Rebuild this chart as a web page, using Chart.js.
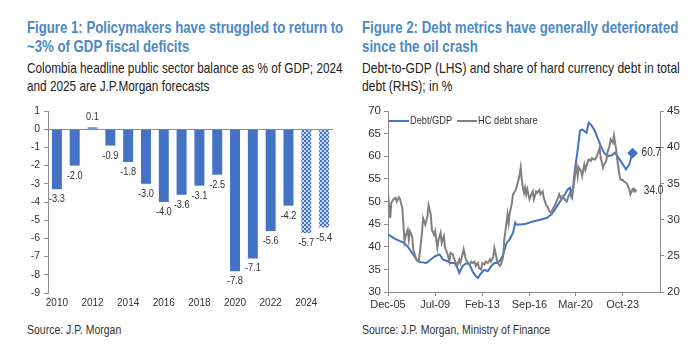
<!DOCTYPE html>
<html>
<head>
<meta charset="utf-8">
<script src="https://cdn.jsdelivr.net/npm/chart.js@4.4.1/dist/chart.umd.min.js"></script>
<style>
  body { margin: 0; width: 700px; height: 361px; background: #fff; position: relative; overflow: hidden;
         font-family: "Liberation Sans", Arial, sans-serif; }
  .txt { position: absolute; white-space: nowrap; transform-origin: 0 0; }
  .title { color: #4d89c4; font-weight: bold; font-size: 17px; line-height: 18.5px; }
  .sub { color: #222; font-size: 14.5px; line-height: 18px; }
  .src { color: #333; font-size: 13.5px; }
  .box { position: absolute; top: 100px; width: 350px; height: 215px; }
</style>
</head>
<body>
<div class="txt title" data-w="316" style="left:27px; top:19px;">Figure 1: Policymakers have struggled to return to<br>~3% of GDP fiscal deficits</div>
<div class="txt sub" data-w="316" style="left:27px; top:59px;">Colombia headline public sector balance as % of GDP; 2024<br>and 2025 are J.P.Morgan forecasts</div>
<div class="txt title" data-w="316" style="left:362px; top:19px;">Figure 2: Debt metrics have generally deteriorated<br>since the oil crash</div>
<div class="txt sub" data-w="318" style="left:362px; top:59px;">Debt-to-GDP (LHS) and share of hard currency debt in total<br>debt (RHS); in %</div>
<div class="box" style="left:0px;"><canvas id="barChart" width="350" height="215"></canvas></div>
<div class="box" style="left:350px;"><canvas id="lineChart" width="350" height="215"></canvas></div>
<div class="txt src" data-w="94" style="left:27px; top:322px;">Source: J.P. Morgan</div>
<div class="txt src" data-w="188" style="left:362px; top:322px;">Source: J.P. Morgan, Ministry of Finance</div>
<script>
// ---- Figure 1 data: public sector balance, % of GDP
const years = ["2010","2011","2012","2013","2014","2015","2016","2017","2018","2019","2020","2021","2022","2023","2024","2025"];
const balance = [-3.3, -2.0, 0.1, -0.9, -1.8, -3.0, -4.0, -3.6, -3.1, -2.5, -7.8, -7.1, -5.6, -4.2, -5.7, -5.4];
const forecastYears = ["2024", "2025"];

// ---- Figure 2 data
const debtDates = ["2005-12","2006-07","2007-03","2007-07","2007-12","2008-03","2008-06","2008-11","2009-03","2009-07",
  "2009-11","2010-02","2010-06","2010-09","2011-01","2011-04","2011-05","2011-08","2011-11","2012-02","2012-05","2012-08",
  "2012-10","2013-01","2013-04","2013-07","2013-10","2014-01","2014-04","2014-07","2014-09","2014-12","2015-03","2015-06",
  "2015-08","2015-09","2016-01","2016-06","2016-12","2017-06","2018-01","2018-03","2018-05","2018-08","2018-11","2019-02",
  "2019-05","2019-08","2019-10","2019-12","2020-02","2020-05","2020-07","2020-09","2021-01","2021-03","2021-05","2021-08",
  "2021-11","2022-02","2022-05","2022-08","2022-12","2023-03","2023-06","2023-09","2023-12","2024-01","2024-04","2024-06","2024-07"];
const debtToGdp = [42.7,41.7,40.8,39.7,37.9,36.8,36.6,36.4,37.2,37.9,
  38.3,37.2,36.8,36.4,36.4,34.9,34.2,35.7,36.3,36.3,34.6,33.5,
  33.1,34.2,34.9,34.6,35.7,36.4,36.4,37.2,38.3,40.8,41.6,43.1,
  45.3,44.9,44.9,45.1,45.6,45.9,46.4,46.8,47.1,48.2,49.3,50.4,
  51.5,52.7,53.0,51.2,56.3,61.5,65.6,65.9,65.2,67.4,67.0,65.9,
  64.1,62.3,60.8,60.0,60.2,60.8,59.7,58.6,57.5,57.1,58.2,60.0,60.7];

const hcDates = ["2005-12","2006-01","2006-02","2006-03","2006-05","2006-07","2006-08","2006-10","2006-11","2007-01",
  "2007-02","2007-03","2007-04","2007-06","2007-07","2007-08","2007-10","2007-11","2008-01","2008-02","2008-04","2008-05",
  "2008-07","2008-08","2008-10","2008-12","2009-01","2009-03","2009-04","2009-06","2009-07","2009-09","2009-10","2009-12",
  "2010-01","2010-03","2010-04","2010-06","2010-08","2010-09","2010-11","2010-12","2011-02","2011-03","2011-05","2011-06",
  "2011-08","2011-09","2011-11","2012-01","2012-02","2012-04","2012-05","2012-07","2012-08","2012-10","2012-11","2013-01",
  "2013-02","2013-04","2013-05","2013-07","2013-09","2013-10","2013-12","2014-01","2014-03","2014-04","2014-06","2014-07",
  "2014-09","2014-10","2014-12","2015-01","2015-02","2015-03","2015-05","2015-06","2015-08","2015-09","2015-10","2015-12",
  "2016-01","2016-02","2016-03","2016-04","2016-05","2016-06","2016-07","2016-09","2016-10","2016-12","2017-01","2017-03",
  "2017-04","2017-06","2017-07","2017-09","2017-10","2017-12","2018-02","2018-03","2018-05","2018-06","2018-08","2018-09",
  "2018-11","2018-12","2019-02","2019-03","2019-05","2019-07","2019-08","2019-10","2019-11","2020-01","2020-02","2020-03",
  "2020-04","2020-05","2020-06","2020-08","2020-09","2020-11","2020-12","2021-02","2021-03","2021-05","2021-06","2021-08",
  "2021-09","2021-11","2022-01","2022-02","2022-04","2022-05","2022-07","2022-08","2022-10","2022-11","2023-01","2023-02",
  "2023-04","2023-05","2023-07","2023-08","2023-10","2023-11","2024-01","2024-02","2024-04","2024-05","2024-07","2024-08","2024-09"];
const hcShare = [33.5,31.9,30.2,32.3,32.8,33.0,32.5,33.1,32.8,31.6,
  29.5,27.0,27.7,28.6,27.2,28.4,27.7,25.9,24.9,24.5,24.2,25.4,
  28.2,30.2,29.3,30.5,32.0,30.7,28.6,27.9,28.4,26.1,27.2,28.2,
  26.8,27.7,26.1,25.4,24.2,25.4,25.2,24.7,24.0,23.6,24.5,24.0,
  25.2,25.9,24.5,24.0,23.8,24.2,24.0,24.2,23.6,24.0,23.3,23.1,
  24.0,23.8,24.2,24.0,24.5,24.2,24.9,26.1,24.7,24.0,23.6,23.8,
  24.9,27.2,29.5,30.7,29.5,30.9,32.3,33.5,33.9,34.4,34.9,36.2,
  37.2,35.5,34.4,33.7,34.4,33.5,34.2,32.8,33.2,33.9,32.8,33.9,
  33.7,34.1,33.5,33.9,33.0,32.1,31.6,31.2,30.9,31.4,31.9,32.3,
  33.0,33.5,32.8,33.2,32.8,32.5,33.0,33.7,33.2,34.4,35.5,36.7,
  37.4,36.0,37.2,36.7,36.0,37.6,36.9,37.9,38.3,38.1,38.5,38.3,
  38.3,39.0,39.9,38.5,37.2,37.6,38.1,39.2,40.2,41.1,40.6,41.6,
  39.7,38.3,36.2,35.5,35.5,35.3,35.1,34.9,34.2,33.5,34.2,34.3,34.0];

const xTickDates = ["2005-12","2009-07","2013-02","2016-09","2020-03","2023-10"];
const xStart = "2005-12";
const xEnd = "2026-08";
const monthNames = ["Jan","Feb","Mar","Apr","May","Jun","Jul","Aug","Sep","Oct","Nov","Dec"];

const BLUE = "#4472c4";
const GREY = "#808080";
const AXIS = "#8c8c8c";
const TEXT = "#333";
const FONT = '"Liberation Sans", Arial, sans-serif';
const NARROW = 0.84;

// narrow look for the html text: squeeze each block to the reference width
document.querySelectorAll('.txt').forEach(el => {
  const target = parseFloat(el.dataset.w);
  el.style.transform = 'scaleX(' + (target / el.offsetWidth) + ')';
});

Chart.defaults.font.family = FONT;
Chart.defaults.color = TEXT;
Chart.defaults.animation = false;

function toYear(d) {
  const p = d.split("-");
  return parseInt(p[0]) + (parseInt(p[1]) - 1) / 12;
}
function yearLabel(v) {
  const m = Math.round(v * 12);
  const y = Math.floor(m / 12);
  return monthNames[m - y * 12] + "-" + String(y).slice(2);
}
// canvas text squeezed horizontally (no narrow font installed)
function narrowText(ctx, s, x, y) {
  ctx.save();
  ctx.translate(x, y);
  ctx.scale(NARROW, 1);
  ctx.fillText(s, 0, 0);
  ctx.restore();
}

// hatched fill for forecast bars
function makePattern() {
  const c = document.createElement('canvas');
  c.width = 4; c.height = 4;
  const g = c.getContext('2d');
  g.fillStyle = "#c7d5ef";
  g.fillRect(0, 0, 4, 4);
  g.fillStyle = BLUE;
  g.fillRect(0, 0, 2, 2);
  g.fillRect(2, 2, 2, 2);
  return g.createPattern(c, 'repeat');
}
const pattern = makePattern();

// value labels on bars
const barLabels = {
  id: 'barLabels',
  afterDatasetsDraw(chart) {
    const ctx = chart.ctx;
    const meta = chart.getDatasetMeta(0);
    ctx.save();
    ctx.font = '11px ' + FONT;
    ctx.fillStyle = TEXT;
    ctx.textAlign = 'center';
    ctx.textBaseline = 'middle';
    meta.data.forEach((bar, i) => {
      const v = balance[i];
      const y = v < 0 ? bar.y + 10 : bar.y - 10;
      narrowText(ctx, v.toFixed(1), bar.x, y);
    });
    ctx.restore();
  }
};

new Chart(document.getElementById('barChart'), {
  type: 'bar',
  data: {
    labels: years,
    datasets: [{
      data: balance,
      backgroundColor: years.map(y => forecastYears.includes(y) ? pattern : BLUE),
      borderWidth: 0,
      categoryPercentage: 1,
      barPercentage: 0.56
    }]
  },
  options: {
    responsive: false,
    layout: { padding: { top: 11, right: 17, bottom: 0, left: 0 } },
    plugins: { legend: { display: false }, tooltip: { enabled: false } },
    scales: {
      x: {
        grid: { display: false, drawTicks: false },
        border: { display: false },
        ticks: {
          autoSkip: false, maxRotation: 0, padding: 4,
          font: { size: 10 },
          callback: (v, i) => i % 2 === 0 ? years[i] : ''
        },
        afterFit: s => { s.height = 22; }
      },
      y: {
        min: -9, max: 1,
        ticks: { stepSize: 1, font: { size: 10.5 }, padding: 4 },
        grid: {
          drawOnChartArea: true,
          color: ctx => ctx.tick && ctx.tick.value === 0 ? AXIS : 'rgba(0,0,0,0)',
          tickColor: AXIS, tickLength: 4
        },
        border: { display: true, color: AXIS },
        afterFit: s => { s.width = 48; }
      }
    }
  },
  plugins: [barLabels]
});

// legend inside the plot, on one row, plus end-of-line value labels
const lineExtras = {
  id: 'lineExtras',
  afterDatasetsDraw(chart) {
    const ctx = chart.ctx;
    const area = chart.chartArea;
    ctx.save();
    ctx.textBaseline = 'middle';
    ctx.textAlign = 'left';

    ctx.font = '12px ' + FONT;
    ctx.fillStyle = TEXT;
    chart.data.datasets.forEach((ds, i) => {
      const pts = chart.getDatasetMeta(i).data;
      const last = pts[pts.length - 1];
      narrowText(ctx, ds.data[ds.data.length - 1].y.toFixed(1), last.x + 9, last.y);
    });

    ctx.font = '11px ' + FONT;
    let x = area.left + 1;
    const y = area.top + 10;
    chart.data.datasets.forEach(ds => {
      ctx.strokeStyle = ds.borderColor;
      ctx.lineWidth = 2;
      ctx.beginPath();
      ctx.moveTo(x, y);
      ctx.lineTo(x + 20, y);
      ctx.stroke();
      x += 21;
      ctx.fillStyle = TEXT;
      narrowText(ctx, ds.label, x, y);
      x += ctx.measureText(ds.label).width * NARROW + 5;
    });
    ctx.restore();
  }
};

new Chart(document.getElementById('lineChart'), {
  type: 'line',
  data: {
    datasets: [{
      label: 'Debt/GDP',
      data: debtDates.map((d, i) => ({ x: toYear(d), y: debtToGdp[i] })),
      borderColor: BLUE, backgroundColor: BLUE, borderWidth: 2,
      pointRadius: debtDates.map((d, i) => i === debtDates.length - 1 ? 4 : 0),
      pointStyle: 'rectRot',
      yAxisID: 'y', order: 2, tension: 0
    }, {
      label: 'HC debt share',
      data: hcDates.map((d, i) => ({ x: toYear(d), y: hcShare[i] })),
      borderColor: GREY, backgroundColor: GREY, borderWidth: 2,
      pointRadius: hcDates.map((d, i) => i === hcDates.length - 1 ? 2 : 0),
      pointBorderWidth: 0,
      yAxisID: 'y2', order: 1, tension: 0
    }]
  },
  options: {
    responsive: false,
    layout: { padding: { top: 11, right: 0, bottom: 0, left: 0 } },
    plugins: { tooltip: { enabled: false }, legend: { display: false } },
    scales: {
      x: {
        type: 'linear',
        min: toYear(xStart), max: toYear(xEnd),
        afterBuildTicks: s => { s.ticks = xTickDates.map(d => ({ value: toYear(d) })); },
        ticks: { callback: v => yearLabel(v), maxRotation: 0, font: { size: 11 }, padding: 2 },
        grid: { drawOnChartArea: false, tickLength: 4, tickColor: AXIS },
        border: { display: true, color: AXIS },
        afterFit: s => { s.height = 23; }
      },
      y: {
        position: 'left', min: 30, max: 70,
        ticks: { stepSize: 5, font: { size: 11.5 }, padding: 3 },
        grid: { drawOnChartArea: false, tickLength: 4, tickColor: AXIS },
        border: { display: true, color: AXIS },
        afterFit: s => { s.width = 38; }
      },
      y2: {
        position: 'right', min: 20, max: 45,
        ticks: { stepSize: 5, font: { size: 11.5 }, padding: 3 },
        grid: { drawOnChartArea: false, tickLength: 4, tickColor: AXIS },
        border: { display: true, color: AXIS },
        afterFit: s => { s.width = 40; }
      }
    }
  },
  plugins: [lineExtras]
});
</script>
</body>
</html>
